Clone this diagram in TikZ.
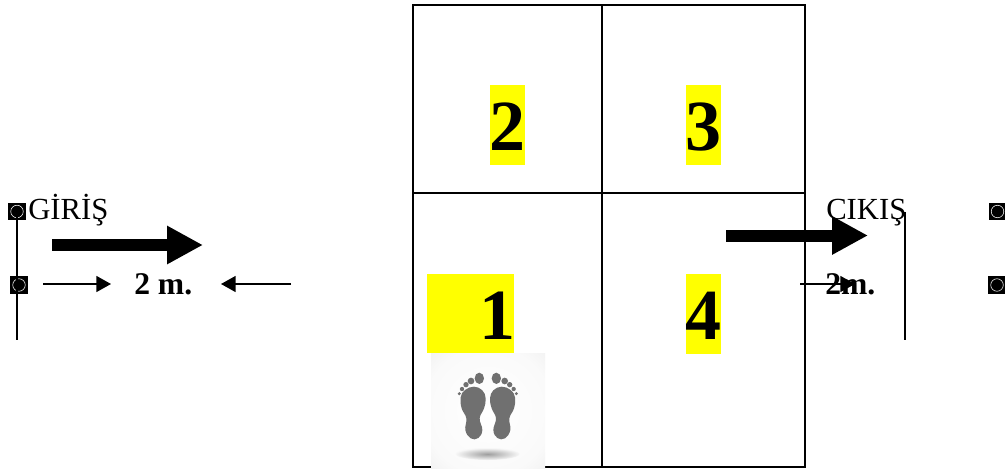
\documentclass[tikz,border=0pt]{standalone}
\usepackage{fontspec}
\setmainfont{Liberation Serif}
\usetikzlibrary{arrows.meta}
\definecolor{hl}{RGB}{255,255,0}
\definecolor{footgray}{RGB}{112,112,112}
\pgfdeclareradialshading{photobg}{\pgfpoint{0bp}{0bp}}{color(0bp)=(white); color(28bp)=(black!2); color(50bp)=(black!10); color(71bp)=(black!20)}
\tikzset{
  cell/.style={draw=black,line width=1.5pt,fill=none,inner sep=0pt,outer sep=0pt},
  hlbox/.style={fill=hl,inner sep=0pt,outer sep=0pt},
  digit/.style={inner sep=0pt,anchor=base,font=\bfseries\fontsize{54}{60}\selectfont},
  label/.style={inner sep=0pt,anchor=base west,font=\fontsize{23}{26}\selectfont},
  measure/.style={inner sep=0pt,anchor=base west,font=\bfseries\fontsize{23.7}{26}\selectfont},
  bullet/.style={fill=black,inner sep=0pt,outer sep=0pt,minimum width=13pt,minimum height=13pt,
    path picture={\draw[white,line width=.4pt] (path picture bounding box.center) circle (4.7pt);}},
  bigarrow/.style={line width=9pt,-{Triangle[length=27pt,width=27pt]}},
  thinarrow/.style={line width=1.1pt,-{Triangle[length=11pt,width=12pt]}},
  post/.style={line width=1.1pt},
  foot/.style={fill=footgray,draw=none}
}
\newcommand{\footshape}{%
  \fill[foot] plot[smooth cycle,tension=.7] coordinates {(192,380)(217,391)(227,415)(222,445)(209,475)(217,510)(205,534)(182,535)(166,510)(169,475)(155,445)(152,412)(165,390)};
  \fill[foot] (208,355) ellipse (14 and 17);
  \fill[foot] (183,363) circle (10);
  \fill[foot] (168,374) circle (8);
  \fill[foot] (156,387) circle (6.5);
  \fill[foot] (148,401) circle (5);
}
\begin{document}
\begin{tikzpicture}[x=0.75pt,y=-0.75pt]
\useasboundingbox (0,0) rectangle (1005,468);
\fill[white] (0,0) rectangle (1005,468);
% highlights
\node[hlbox,minimum width=26.25pt,minimum height=60pt] (y2) at (507.5,125) {};
\node[hlbox,minimum width=26.25pt,minimum height=60pt] (y3) at (703.5,125) {};
\node[hlbox,minimum width=65.25pt,minimum height=59.25pt] (y1) at (470.5,313.5) {};
\node[hlbox,minimum width=26.25pt,minimum height=60pt] (y4) at (703.5,314) {};
% grid
\node[cell,minimum width=141.75pt,minimum height=141pt] (c2) at (507.5,99) {};
\node[cell,minimum width=152.25pt,minimum height=141pt] (c3) at (703.5,99) {};
\node[cell,minimum width=141.75pt,minimum height=205.5pt] (c1) at (507.5,330) {};
\node[cell,minimum width=152.25pt,minimum height=205.5pt] (c4) at (703.5,330) {};
% digits
\node[digit] (d2) at (507.5,150) {2};
\node[digit] (d3) at (703.5,150) {3};
\node[digit] (d1) at (497,339) {1};
\node[digit] (d4) at (703.5,339) {4};
% footprint photo
\path[shading=photobg] (431,353) rectangle (545,468);
\shade[inner color=black!38,outer color=black!3,draw=none] (487.5,454) ellipse (32 and 6);
\begin{scope}[shift={(410,260)},x=0.25pt,y=-0.25pt]
\footshape
\end{scope}
\begin{scope}[shift={(565.67,260)},x=-0.25pt,y=-0.25pt]
\footshape
\end{scope}
% left group
\node[bullet] (b1) at (17,211.5) {};
\node[bullet] (b2) at (19,285) {};
\coordinate (p1) at (17,340);
\draw[post] (b1.center) -- (p1);
\node[label] (giris) at (28,219) {GİRİŞ};
\coordinate (ga) at (52,245);
\coordinate (gb) at (203,245);
\draw[bigarrow] (ga) -- (gb);
\node[measure] (m1) at (134,294) {2 m.};
\coordinate (t1a) at (43,284);
\coordinate (t1b) at (111,284);
\coordinate (t2a) at (291,284);
\coordinate (t2b) at (221,284);
\draw[thinarrow] (t1a) -- (t1b);
\draw[thinarrow] (t2a) -- (t2b);
% right group
\node[label] (cikis) at (826,219) {CIKIŞ};
\coordinate (p2a) at (905,212);
\coordinate (p2b) at (905,340);
\draw[post] (p2a) -- (p2b);
\coordinate (ca) at (726,235.5);
\coordinate (cb) at (868,235.5);
\draw[bigarrow] (ca) -- (cb);
\node[measure] (m2) at (825,294) {2m.};
\coordinate (t3a) at (800,284);
\coordinate (t3b) at (855,284);
\draw[thinarrow] (t3a) -- (t3b);
\node[bullet] (b3) at (997.5,211.5) {};
\node[bullet] (b4) at (997,285) {};
\end{tikzpicture}
\end{document}
